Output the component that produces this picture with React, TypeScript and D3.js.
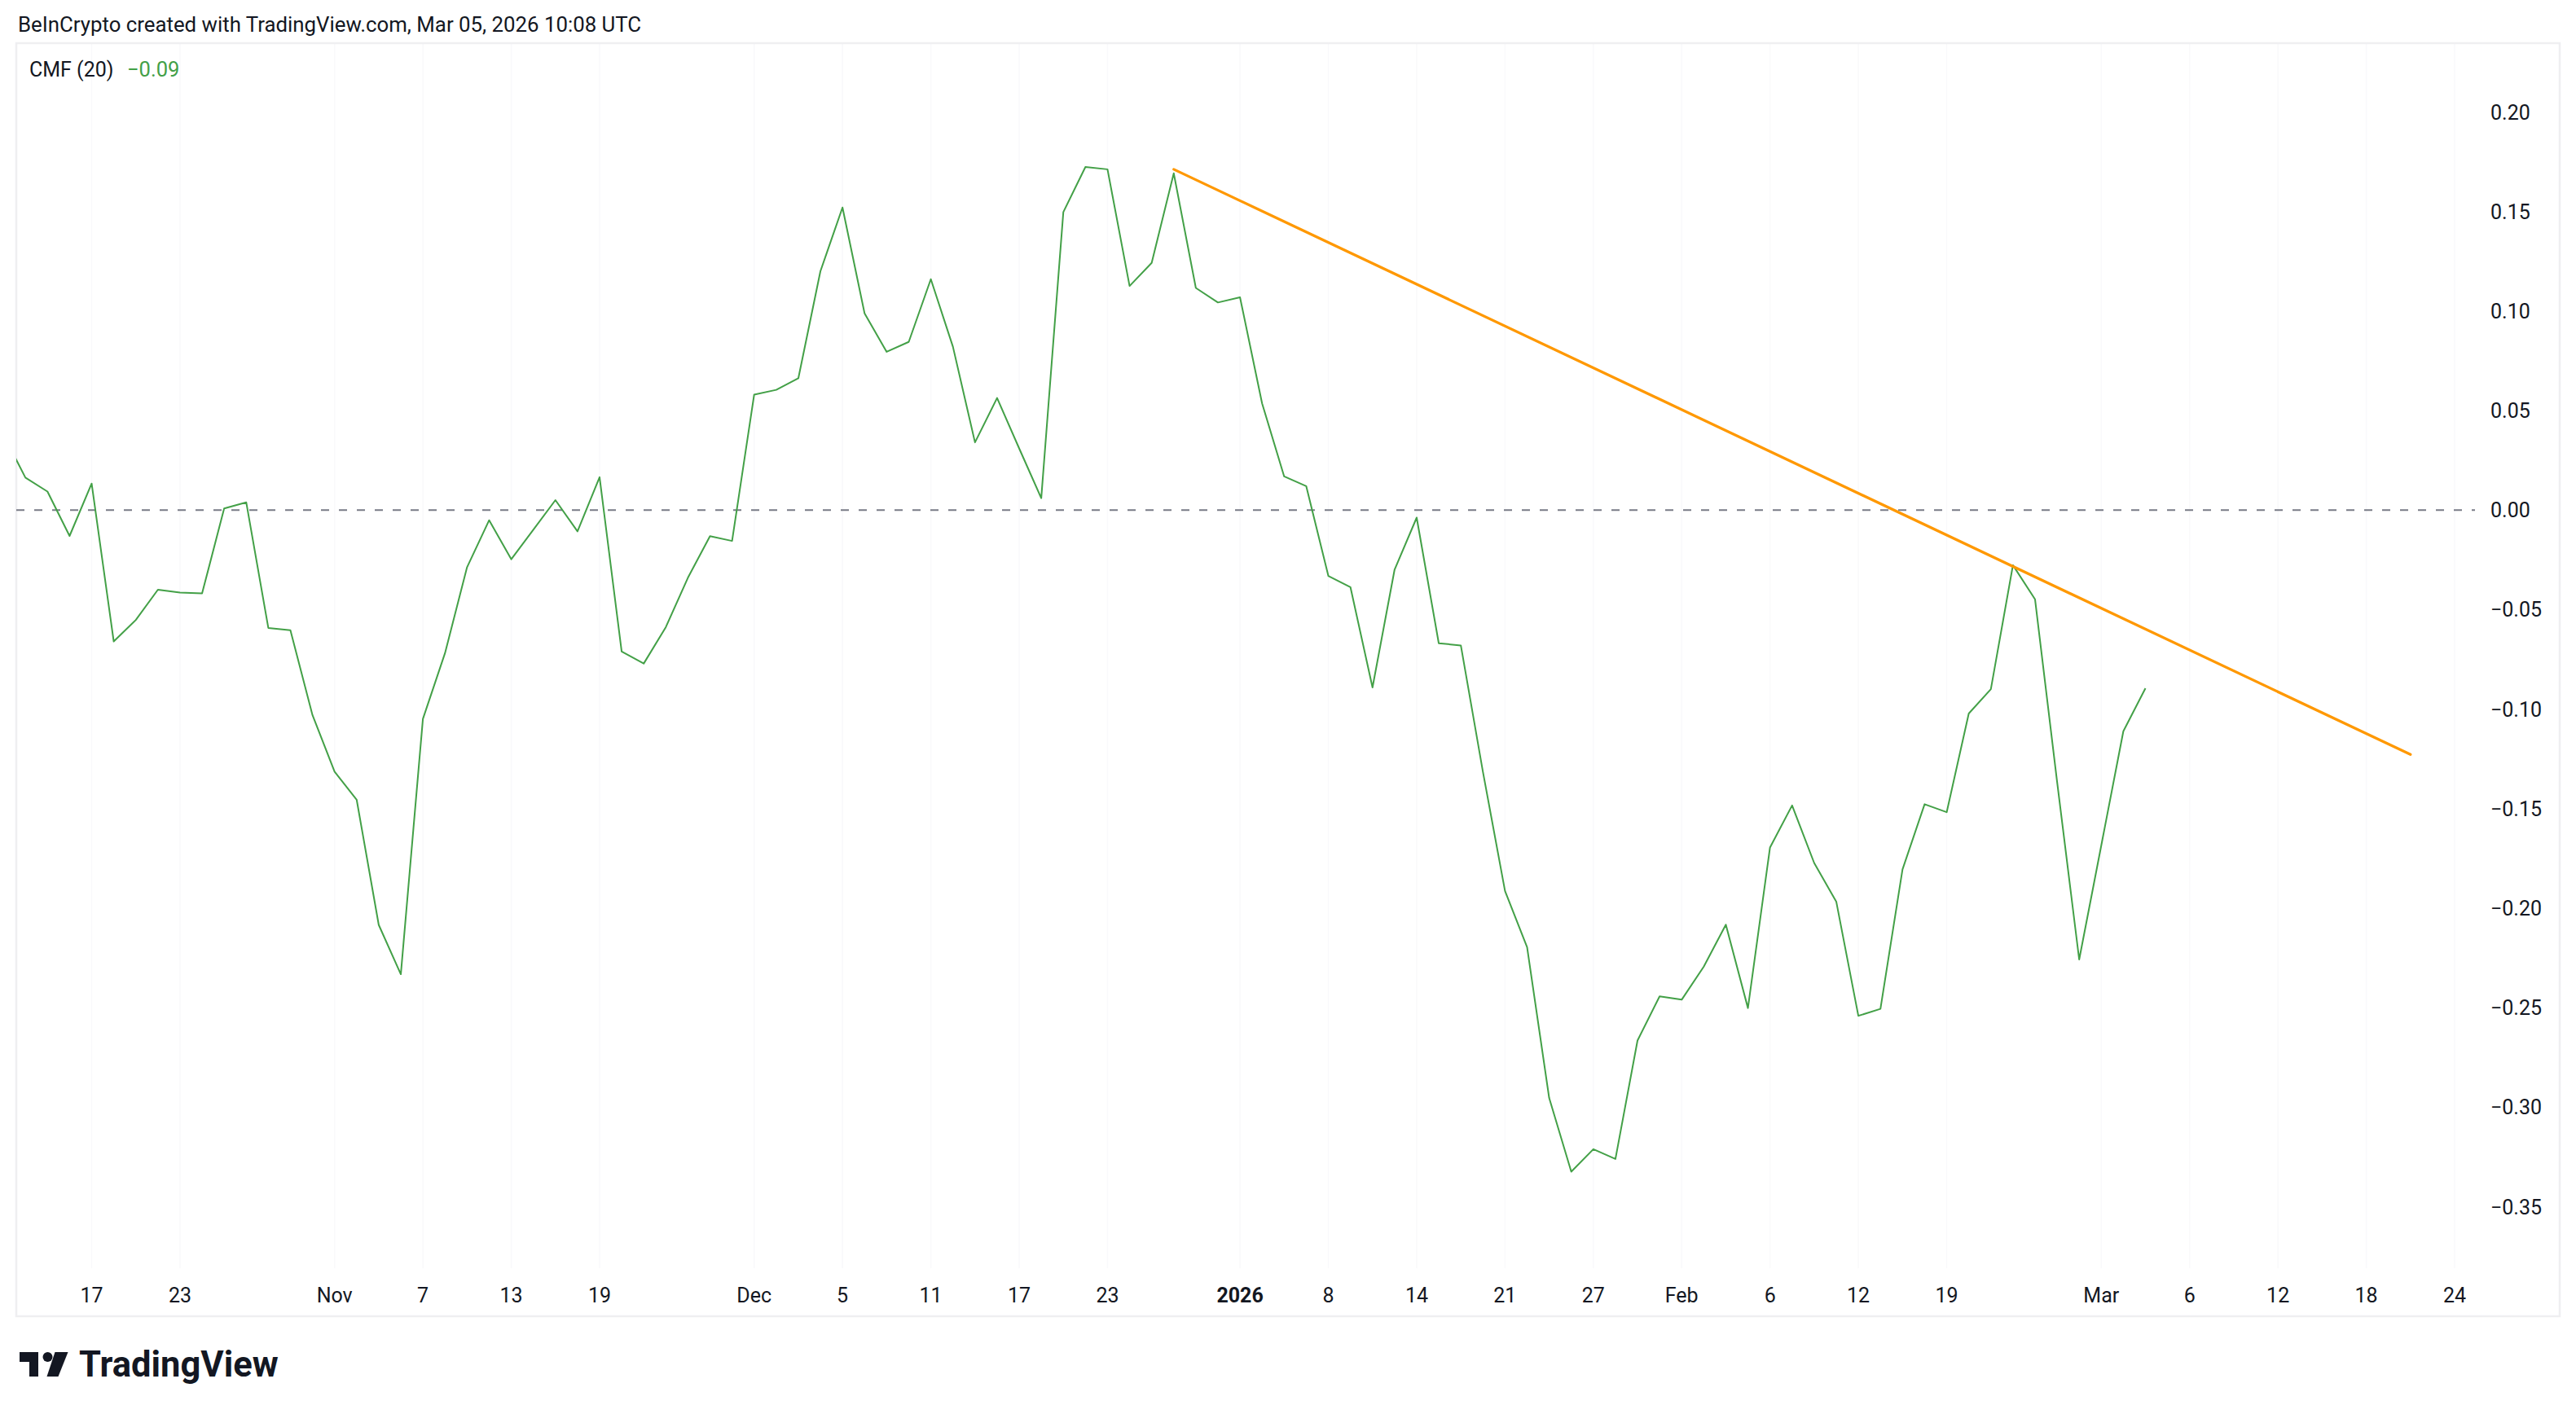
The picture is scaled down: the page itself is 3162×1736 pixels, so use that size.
import React from "react";
import * as d3 from "d3";

// ---- data (trading days, daily bars) ----
const dataDates: string[] = [
  "2025-10-13","2025-10-14","2025-10-15","2025-10-16","2025-10-17",
  "2025-10-20","2025-10-21","2025-10-22","2025-10-23","2025-10-24",
  "2025-10-27","2025-10-28","2025-10-29","2025-10-30","2025-10-31",
  "2025-11-03","2025-11-04","2025-11-05","2025-11-06","2025-11-07",
  "2025-11-10","2025-11-11","2025-11-12","2025-11-13","2025-11-14",
  "2025-11-17","2025-11-18","2025-11-19","2025-11-20","2025-11-21",
  "2025-11-24","2025-11-25","2025-11-26","2025-11-28",
  "2025-12-01","2025-12-02","2025-12-03","2025-12-04","2025-12-05",
  "2025-12-08","2025-12-09","2025-12-10","2025-12-11","2025-12-12",
  "2025-12-15","2025-12-16","2025-12-17","2025-12-18","2025-12-19",
  "2025-12-22","2025-12-23","2025-12-24","2025-12-26",
  "2025-12-29","2025-12-30","2025-12-31","2026-01-02",
  "2026-01-05","2026-01-06","2026-01-07","2026-01-08","2026-01-09",
  "2026-01-12","2026-01-13","2026-01-14","2026-01-15","2026-01-16",
  "2026-01-20","2026-01-21","2026-01-22","2026-01-23",
  "2026-01-26","2026-01-27","2026-01-28","2026-01-29","2026-01-30",
  "2026-02-02","2026-02-03","2026-02-04","2026-02-05","2026-02-06",
  "2026-02-09","2026-02-10","2026-02-11","2026-02-12","2026-02-13",
  "2026-02-17","2026-02-18","2026-02-19","2026-02-20",
  "2026-02-23","2026-02-24","2026-02-25","2026-02-26","2026-02-27",
  "2026-03-02","2026-03-03","2026-03-04",
];

const futureDates: string[] = [
  "2026-03-05","2026-03-06","2026-03-09","2026-03-10","2026-03-11","2026-03-12",
  "2026-03-13","2026-03-16","2026-03-17","2026-03-18","2026-03-19","2026-03-20",
  "2026-03-23","2026-03-24",
];

const cmfValues: number[] = [
  0.038, 0.0163, 0.0093, -0.013, 0.0133,
  -0.066, -0.0552, -0.040, -0.0414, -0.0419,
  0.0008, 0.0039, -0.0592, -0.0604, -0.103,
  -0.1314, -0.1455, -0.2084, -0.2332, -0.1049,
  -0.0719, -0.0287, -0.0051, -0.0247, -0.0099,
  0.005, -0.0107, 0.0165, -0.0711, -0.0771,
  -0.0588, -0.034, -0.0131, -0.0155,
  0.058, 0.0604, 0.0662, 0.12, 0.152,
  0.0988, 0.0795, 0.0845, 0.116, 0.0821,
  0.034, 0.0563, 0.031, 0.006, 0.1497,
  0.1724, 0.1712, 0.1126, 0.1242,
  0.1692, 0.1116, 0.1043, 0.1069,
  0.0536, 0.0169, 0.012, -0.0331, -0.0387,
  -0.0891, -0.0299, -0.0038, -0.0669, -0.068,
  -0.1315, -0.1914, -0.2196, -0.2954,
  -0.3324, -0.3211, -0.326, -0.2665, -0.2443,
  -0.246, -0.2294, -0.2083, -0.2502, -0.1695,
  -0.1484, -0.1773, -0.1967, -0.2541, -0.2506,
  -0.1805, -0.1478, -0.1518, -0.1022,
  -0.09, -0.0277, -0.0448, -0.1365, -0.2258,
  -0.1685, -0.1111, -0.0895,
];

const trendStart = { date: "2025-12-29", value: 0.1712 };
const trendEnd = { date: "2026-03-20", value: -0.1228 };

const xTickLabels: { date: string; label: string; bold?: boolean }[] = [
  { date: "2025-10-17", label: "17" },
  { date: "2025-10-23", label: "23" },
  { date: "2025-11-03", label: "Nov" },
  { date: "2025-11-07", label: "7" },
  { date: "2025-11-13", label: "13" },
  { date: "2025-11-19", label: "19" },
  { date: "2025-12-01", label: "Dec" },
  { date: "2025-12-05", label: "5" },
  { date: "2025-12-11", label: "11" },
  { date: "2025-12-17", label: "17" },
  { date: "2025-12-23", label: "23" },
  { date: "2026-01-02", label: "2026", bold: true },
  { date: "2026-01-08", label: "8" },
  { date: "2026-01-14", label: "14" },
  { date: "2026-01-21", label: "21" },
  { date: "2026-01-27", label: "27" },
  { date: "2026-02-02", label: "Feb" },
  { date: "2026-02-06", label: "6" },
  { date: "2026-02-12", label: "12" },
  { date: "2026-02-19", label: "19" },
  { date: "2026-03-02", label: "Mar" },
  { date: "2026-03-06", label: "6" },
  { date: "2026-03-12", label: "12" },
  { date: "2026-03-18", label: "18" },
  { date: "2026-03-24", label: "24" },
];

const yTickValues: number[] = [0.2, 0.15, 0.1, 0.05, 0, -0.05, -0.1, -0.15, -0.2, -0.25, -0.3, -0.35];

const headerText = "BeInCrypto created with TradingView.com, Mar 05, 2026 10:08 UTC";
const legendName = "CMF (20)";

// ---- layout ----
const W = 3162;
const H = 1736;
const FONT = "Roboto, 'Liberation Sans', sans-serif";
const frame = { left: 20, top: 53, right: 3142, bottom: 1616 };
const plot = { left: 20, top: 53, right: 3038, bottom: 1557 };

const allDates = [...dataDates, ...futureDates];
const idx = (d: string) => allDates.indexOf(d);

const x = d3
  .scaleLinear()
  .domain([idx("2025-10-17"), idx("2026-03-24")])
  .range([112.5, 3013]);
const y = d3.scaleLinear().domain([-0.35, 0.2]).range([1481.5, 137.5]);

const fmt = (v: number) => {
  const s = Math.abs(v).toFixed(2);
  return v < 0 ? "\u2212" + s : s;
};

export default function App() {
  const line = d3
    .line<number>()
    .x((_, i) => x(i))
    .y((v) => y(v));
  const pathD = line(cmfValues) || "";
  const last = cmfValues[cmfValues.length - 1];

  return (
    <div style={{ position: "absolute", left: 0, top: 0, width: W, height: H, background: "#fff" }}>
      <svg width={W} height={H} style={{ display: "block" }} fontFamily={FONT}>
        <defs>
          <clipPath id="plotClip">
            <rect x={plot.left} y={plot.top} width={plot.right - plot.left} height={plot.bottom - plot.top} />
          </clipPath>
        </defs>
        <rect x={0} y={0} width={W} height={H} fill="#ffffff" />

        {/* header */}
        <text x={22} y={39} fontSize={25.8} fill="#131722">
          {headerText}
        </text>

        {/* vertical grid (very faint) */}
        {xTickLabels.map((t, i) => (
          <line
            key={"g" + i}
            x1={x(idx(t.date))}
            x2={x(idx(t.date))}
            y1={plot.top}
            y2={plot.bottom}
            stroke="#F9F9FB"
            strokeWidth={1.5}
          />
        ))}

        {/* frame */}
        <rect
          x={frame.left}
          y={frame.top}
          width={frame.right - frame.left}
          height={frame.bottom - frame.top}
          fill="none"
          stroke="#EFEFF1"
          strokeWidth={2.5}
        />

        {/* zero line */}
        <line
          x1={plot.left}
          x2={plot.right}
          y1={y(0)}
          y2={y(0)}
          stroke="#787B86"
          strokeWidth={2}
          strokeDasharray="10 12"
        />

        <g clipPath="url(#plotClip)">
          <path d={pathD} fill="none" stroke="#43A047" strokeWidth={2} strokeLinejoin="round" />
          <line
            x1={x(idx(trendStart.date))}
            y1={y(trendStart.value)}
            x2={x(idx(trendEnd.date))}
            y2={y(trendEnd.value)}
            stroke="#FF9800"
            strokeWidth={3.3}
            strokeLinecap="round"
          />
        </g>

        {/* legend */}
        <text x={36} y={94} fontSize={25} fill="#131722">
          {legendName}
        </text>
        <text x={156} y={94} fontSize={25.5} fill="#43A047">
          {fmt(last)}
        </text>

        {/* y axis labels */}
        {yTickValues.map((v, i) => (
          <text key={"y" + i} x={3057} y={y(v) + 9} fontSize={25} fill="#131722">
            {fmt(v)}
          </text>
        ))}

        {/* x axis labels */}
        {xTickLabels.map((t, i) => (
          <text
            key={"x" + i}
            x={x(idx(t.date))}
            y={1599}
            fontSize={25}
            textAnchor="middle"
            fontWeight={t.bold ? 700 : 400}
            fill="#131722"
          >
            {t.label}
          </text>
        ))}

        {/* TradingView logo */}
        <g fill="#131722">
          <polygon points="24,1660 47,1660 47,1690 36,1690 36,1672 24,1672" />
          <circle cx={58.5} cy={1666} r={6} />
          <polygon points="67.5,1660 83.5,1660 71.5,1690 57.5,1690" />
          <text x={97} y={1690} fontSize={43.5} fontWeight={700}>
            TradingView
          </text>
        </g>
      </svg>
    </div>
  );
}
